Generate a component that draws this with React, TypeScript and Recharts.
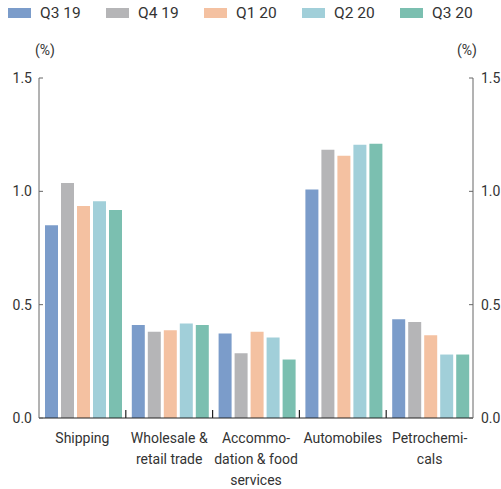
import React from 'react';
import { BarChart, Bar, XAxis, YAxis } from 'recharts';

const categories = [
  'Shipping',
  'Wholesale &\nretail trade',
  'Accommo-\ndation & food\nservices',
  'Automobiles',
  'Petrochemi-\ncals',
];

const q319 = [0.85, 0.41, 0.373, 1.008, 0.436];
const q419 = [1.037, 0.38, 0.286, 1.184, 0.423];
const q120 = [0.935, 0.387, 0.38, 1.157, 0.365];
const q220 = [0.956, 0.417, 0.355, 1.206, 0.28];
const q320 = [0.918, 0.41, 0.258, 1.21, 0.28];

const seriesNames = ['Q3 19', 'Q4 19', 'Q1 20', 'Q2 20', 'Q3 20'];
const seriesColors = ['#7b9cca', '#b5b5b7', '#f4c1a1', '#a1cfd9', '#7bbfb0'];

const yTicks = [0, 0.5, 1, 1.5];

const data = categories.map((name, i) => ({
  name,
  'Q3 19': q319[i],
  'Q4 19': q419[i],
  'Q1 20': q120[i],
  'Q2 20': q220[i],
  'Q3 20': q320[i],
}));

const FONT = 'Roboto, "Liberation Sans", sans-serif';

// category label plus a small upward tick at the left edge of each band
const CategoryTick = ({ x, y, payload }: any) => {
  const lines = String(payload.value).split('\n');
  const half = payload.offset || 0;
  return (
    <g>
      {payload.index > 0 && half > 0 && (
        <line x1={x - half} x2={x - half} y1={y - 8} y2={y} stroke="#222" strokeWidth={1.2} />
      )}
      <text x={x} y={y} textAnchor="middle" fontSize={14} fill="#333" fontFamily={FONT}>
        {lines.map((l, i) => (
          <tspan key={i} x={x} dy={i === 0 ? 25 : 21}>
            {l}
          </tspan>
        ))}
      </text>
    </g>
  );
};

export default function App() {
  return (
    <div style={{ position: 'absolute', left: 0, top: 0, width: 501, height: 489, background: '#fff', fontFamily: FONT }}>
      {/* legend */}
      {seriesNames.map((s, i) => (
        <div
          key={s}
          style={{ position: 'absolute', left: 8 + i * 98, top: 4, display: 'flex', alignItems: 'center', fontSize: 15.5, color: '#333' }}
        >
          <span style={{ display: 'inline-block', width: 23, height: 10, background: seriesColors[i], marginRight: 9 }} />
          <span>{s}</span>
        </div>
      ))}
      <div style={{ position: 'absolute', left: 35, top: 42, fontSize: 14, color: '#333' }}>(%)</div>
      <div style={{ position: 'absolute', left: 457, top: 42, fontSize: 14, color: '#333' }}>(%)</div>

      <div style={{ position: 'absolute', left: 0, top: 0 }}>
        <BarChart
          width={501}
          height={489}
          data={data}
          margin={{ top: 78, right: 0, bottom: 0, left: 0 }}
          barCategoryGap={6}
          barGap={3}
        >
          <XAxis
            dataKey="name"
            height={71}
            axisLine={{ stroke: '#222' }}
            tickLine={false}
            tickSize={0}
            tickMargin={0}
            interval={0}
            tick={<CategoryTick />}
          />
          <YAxis
            yAxisId="left"
            orientation="left"
            width={39}
            domain={[0, 1.5]}
            ticks={yTicks}
            tickFormatter={(v: number) => v.toFixed(1)}
            tickSize={-4}
            tickMargin={11}
            axisLine={{ stroke: '#666' }}
            tickLine={{ stroke: '#666' }}
            tick={{ fontSize: 14, fill: '#333', fontFamily: FONT }}
          />
          <YAxis
            yAxisId="right"
            orientation="right"
            width={28}
            domain={[0, 1.5]}
            allowDataOverflow
            ticks={yTicks}
            tickFormatter={(v: number) => v.toFixed(1)}
            tickSize={-4}
            tickMargin={12}
            axisLine={{ stroke: '#666' }}
            tickLine={{ stroke: '#666' }}
            tick={{ fontSize: 14, fill: '#333', fontFamily: FONT }}
          />
          {seriesNames.map((s, i) => (
            <Bar key={s} yAxisId="left" dataKey={s} fill={seriesColors[i]} isAnimationActive={false} />
          ))}
        </BarChart>
      </div>
    </div>
  );
}
